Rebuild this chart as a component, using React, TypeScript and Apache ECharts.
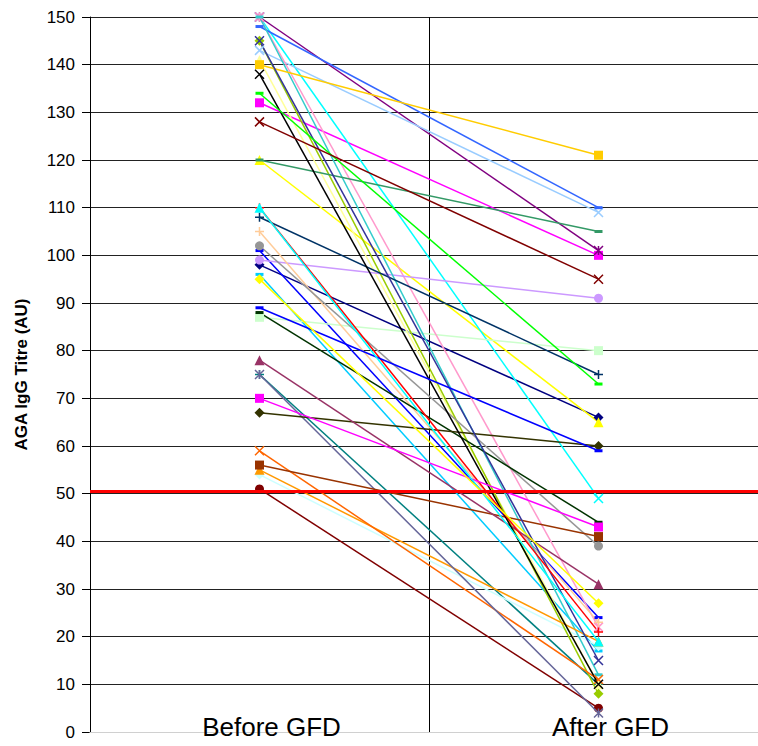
import React, { useEffect, useRef } from "react";
import * as echarts from "echarts";

const categories = ["Before GFD", "After GFD"];
const yMin = 0;
const yMax = 150;
const yInterval = 10;
const thresholdValue = 50.5;

const beforeGFD = [98, 132, 120, 150, 150, 51, 75, 101, 96, 54, 87, 141, 143, 150, 99, 105, 148, 150, 145, 140, 55, 59, 75, 102, 108, 120, 88, 67, 56, 78, 145, 138, 110, 134, 89, 70, 110, 128, 95];
const afterGFD = [66, 100, 65, 49, 101, 5, 10, 24, 17, 18, 80, 10, 109, 22, 91, 23, 110, 12, 8, 121, 19, 11, 4, 39, 75, 105, 44, 60, 41, 31, 15, 10, 21, 73, 59, 43, 19, 95, 27];

const seriesColors = ["#000080", "#FF00FF", "#FFFF00", "#00FFFF", "#800080", "#800000", "#008080", "#0000FF", "#00CCFF", "#CCFFFF", "#CCFFCC", "#FFFF99", "#99CCFF", "#FF99CC", "#CC99FF", "#FFCC99", "#3366FF", "#33CCCC", "#99CC00", "#FFCC00", "#FF9900", "#FF6600", "#666699", "#969696", "#003366", "#339966", "#003300", "#333300", "#993300", "#993366", "#333399", "#000000", "#FF0000", "#00FF00", "#0000FF", "#FF00FF", "#00FFFF", "#800000", "#FFFF00"];
const seriesMarkers = ["diamond", "square", "triangle", "x", "star", "circle", "plus", "dash", "dash", "diamond", "square", "triangle", "x", "star", "circle", "plus", "dash", "dash", "diamond", "square", "triangle", "x", "star", "circle", "plus", "dash", "dash", "diamond", "square", "triangle", "x", "x", "plus", "dash", "dash", "square", "triangle", "x", "diamond"];

const markerDefs: Record<string, { symbol: string; size: number | number[]; stroke: boolean }> = {
  diamond: { symbol: "diamond", size: 10, stroke: false },
  square: { symbol: "rect", size: 9, stroke: false },
  triangle: { symbol: "triangle", size: 10, stroke: false },
  circle: { symbol: "circle", size: 9, stroke: false },
  dash: { symbol: "rect", size: [8, 3], stroke: false },
  x: { symbol: "path://M0,0L10,10M10,0L0,10", size: 9, stroke: true },
  star: { symbol: "path://M0,0L10,10M10,0L0,10M5,0L5,10", size: 9, stroke: true },
  plus: { symbol: "path://M5,0L5,10M0,5L10,5", size: 9, stroke: true },
};

export default function App() {
  const ref = useRef<HTMLDivElement>(null);
  useEffect(() => {
    if (!ref.current) return;
    const chart = echarts.init(ref.current, null, { renderer: "svg" });
    const series: any[] = beforeGFD.map((b, i) => {
      const m = markerDefs[seriesMarkers[i]];
      const c = seriesColors[i];
      return {
        type: "line",
        name: "Patient " + (i + 1),
        data: [b, afterGFD[i]],
        symbol: m.symbol,
        symbolSize: m.size,
        showSymbol: true,
        lineStyle: { color: c, width: 1.5 },
        itemStyle: m.stroke
          ? { color: c, borderColor: c, borderWidth: 1.5 }
          : { color: c, borderWidth: 0 },
        emphasis: { disabled: true },
        silent: true,
        z: 3,
      };
    });
    series.push({
      type: "line",
      name: "threshold",
      data: [],
      silent: true,
      z: 4,
      markLine: {
        silent: true,
        symbol: ["none", "none"],
        label: { show: false },
        lineStyle: { color: "#FF0000", width: 3, type: "solid" },
        data: [{ yAxis: thresholdValue }],
      },
    });
    chart.setOption({
      animation: false,
      grid: { left: 90, top: 17, height: 715, width: 678, outerBoundsMode: "none", containLabel: false },
      xAxis: {
        type: "category",
        data: categories,
        boundaryGap: true,
        axisLine: { show: true, lineStyle: { color: "#d0d0d0", width: 1 } },
        axisTick: { show: false },
        splitLine: { show: true, lineStyle: { color: "#000", width: 1 } },
        axisLabel: {
          fontFamily: "Liberation Sans, Arial, sans-serif",
          fontSize: 26,
          color: "#000",
          margin: -18,
          padding: [0, 0, 0, 24],
        },
        z: 2,
      },
      yAxis: {
        type: "value",
        min: yMin,
        max: yMax,
        interval: yInterval,
        name: "AGA IgG Titre (AU)",
        nameLocation: "middle",
        nameGap: 60,
        nameTextStyle: {
          fontFamily: "Liberation Sans, Arial, sans-serif",
          fontSize: 17,
          fontWeight: "bold",
          color: "#000",
        },
        axisLine: { show: true, lineStyle: { color: "#000", width: 1 } },
        axisTick: { show: true, inside: false, length: 8, lineStyle: { color: "#000" } },
        axisLabel: {
          fontFamily: "Liberation Sans, Arial, sans-serif",
          fontSize: 17,
          color: "#000",
          margin: 15,
        },
        splitLine: { show: true, lineStyle: { color: "#222", width: 1 } },
      },
      series,
    });
    return () => chart.dispose();
  }, []);
  return (
    <div
      ref={ref}
      style={{ position: "absolute", left: 0, top: 0, width: 758, height: 746, background: "#fff" }}
    />
  );
}
